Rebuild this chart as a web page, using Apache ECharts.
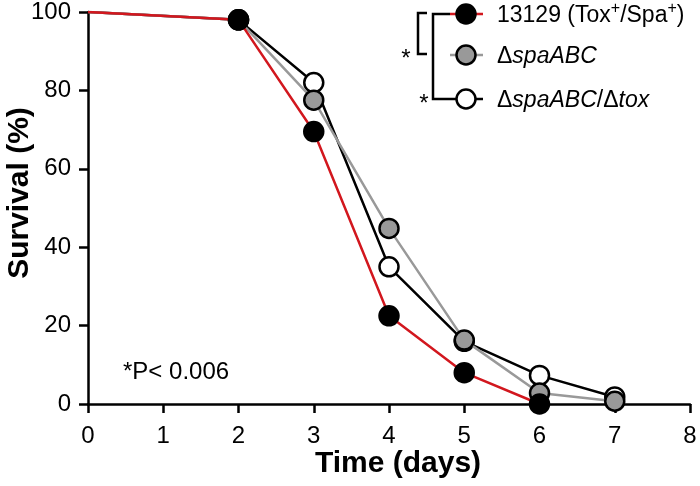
<!DOCTYPE html>
<html><head><meta charset="utf-8">
<script src="https://cdn.jsdelivr.net/npm/echarts@6/dist/echarts.min.js"></script>
<style>html,body{margin:0;padding:0;background:#fff}#c{width:700px;height:486px}</style>
</head><body><div id="c"></div>
<script>
// Data
const days = [0, 2, 3, 4, 5, 6, 7];
const wildType = [100, 98, 69.5, 22.5, 8, 0, null];     // 13129 (Tox+/Spa+)
const spaABC = [100, 98, 77.5, 44.8, 16.3, 2.8, 0.7];   // ΔspaABC
const spaABCtox = [100, 98, 82, 35, 16, 7.3, 1.8];      // ΔspaABC/Δtox
const xTickMin = 0, xTickMax = 8, xTickStep = 1;
const yTickMin = 0, yTickMax = 100, yTickStep = 20;
const pValueText = '*P< 0.006';

const FONT = "'Liberation Sans', Arial, Helvetica, sans-serif";
const RED = '#d2171e', GRAY = '#999999';

function build(vals) {
  const out = [];
  days.forEach((d, i) => {
    if (vals[i] == null) return;
    const p = { value: [d, vals[i]] };
    if (d === 0) p.symbol = 'none';
    out.push(p);
  });
  return out;
}

function mkSeries(name, vals, lineColor, fill, z) {
  return {
    name, type: 'line', data: build(vals), z,
    symbol: 'circle', symbolSize: 19,
    lineStyle: { color: lineColor, width: 2.5 },
    itemStyle: { color: fill, borderColor: '#000', borderWidth: 2.5 },
    emphasis: { disabled: true }, animation: false
  };
}

const chart = echarts.init(document.getElementById('c'), null, { renderer: 'canvas' });

// legend rows
const rows = [
  { y: 14, line: RED, fill: '#000', rich: '{a|13129 (Tox}{s|+}{a|/Spa}{s|+}{a|)}' },
  { y: 55, line: GRAY, fill: GRAY, rich: '{a|Δ}{i|spaABC}' },
  { y: 99, line: '#000', fill: '#fff', rich: '{a|Δ}{i|spaABC}{a|/Δ}{i|tox}' }
];
const richStyles = {
  a: { fontSize: 23, fontFamily: FONT, color: '#000', lineHeight: 30 },
  i: { fontSize: 23, fontFamily: FONT, fontStyle: 'italic', color: '#000', lineHeight: 30 },
  s: { fontSize: 16, fontFamily: FONT, color: '#000', lineHeight: 16, padding: [0, 0, 14, 0] }
};
const graphics = [];
rows.forEach(r => {
  graphics.push({ type: 'line', shape: { x1: 450, y1: r.y, x2: 483, y2: r.y }, style: { stroke: r.line, lineWidth: 2.5 }, z: 10 });
  graphics.push({ type: 'circle', shape: { cx: 466, cy: r.y, r: 9.5 }, style: { fill: r.fill, stroke: '#000', lineWidth: 2.5 }, z: 11 });
  graphics.push({ type: 'text', x: 497, y: r.y + 2, style: { text: r.rich, rich: richStyles, verticalAlign: 'middle', align: 'left' }, z: 11 });
});
// brackets
graphics.push({ type: 'polyline', shape: { points: [[427, 13], [418, 13], [418, 54], [427, 54]] }, style: { stroke: '#000', lineWidth: 2.5, fill: null }, z: 10 });
graphics.push({ type: 'polyline', shape: { points: [[450, 14], [433, 14], [433, 99], [450, 99]] }, style: { stroke: '#000', lineWidth: 2.5, fill: null }, z: 10 });
graphics.push({ type: 'text', x: 406, y: 59, style: { text: '*', font: '24px ' + FONT, fill: '#000', align: 'center', verticalAlign: 'middle' }, z: 11 });
graphics.push({ type: 'text', x: 424, y: 104, style: { text: '*', font: '24px ' + FONT, fill: '#000', align: 'center', verticalAlign: 'middle' }, z: 11 });
// p value
graphics.push({ type: 'text', x: 123, y: 372, style: { text: pValueText, font: '24px ' + FONT, fill: '#000', align: 'left', verticalAlign: 'middle' }, z: 11 });
// y axis title
graphics.push({ type: 'text', x: 20, y: 193, rotation: Math.PI / 2, style: { text: 'Survival (%)', font: 'bold 30px ' + FONT, fill: '#000', align: 'center', verticalAlign: 'middle' }, z: 11 });
// x axis title
graphics.push({ type: 'text', x: 398, y: 464, style: { text: 'Time (days)', font: 'bold 30px ' + FONT, fill: '#000', align: 'center', verticalAlign: 'middle' }, z: 11 });

const axisLine = { show: true, lineStyle: { color: '#000', width: 2.5 } };
const axisTick = { show: true, length: 9, lineStyle: { color: '#000', width: 2.5 } };

chart.setOption({
  animation: false,
  grid: { left: 88, right: 10, top: 11, bottom: 82, containLabel: false },
  xAxis: {
    type: 'value', min: xTickMin, max: xTickMax, interval: xTickStep,
    axisLine, axisTick, splitLine: { show: false },
    axisLabel: { fontSize: 24, fontFamily: FONT, color: '#000', margin: 20 }
  },
  yAxis: {
    type: 'value', min: yTickMin, max: yTickMax, interval: yTickStep,
    axisLine, axisTick, splitLine: { show: false },
    axisLabel: { fontSize: 24, fontFamily: FONT, color: '#000', margin: 17 }
  },
  series: [
    mkSeries('ΔspaABC/Δtox', spaABCtox, '#000', '#fff', 2),
    mkSeries('ΔspaABC', spaABC, GRAY, GRAY, 3),
    mkSeries('13129 (Tox+/Spa+)', wildType, RED, '#000', 4)
  ],
  graphic: graphics
});
</script></body></html>
